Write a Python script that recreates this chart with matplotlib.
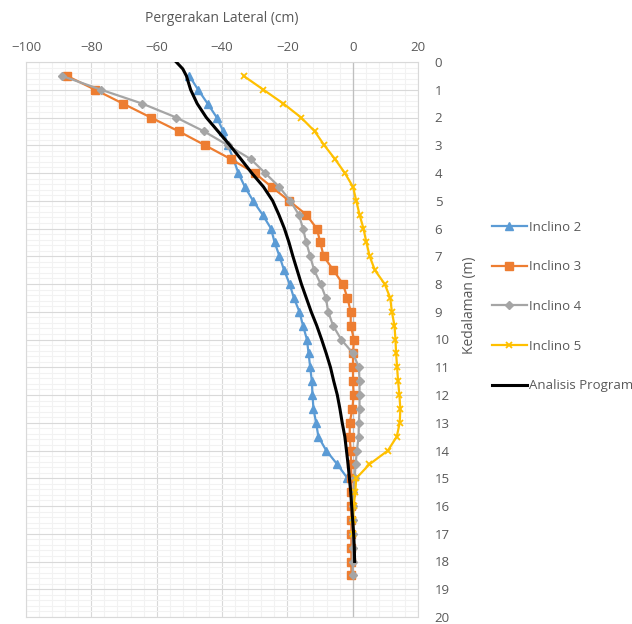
import numpy as np
import matplotlib
matplotlib.use("Agg")
import matplotlib.pyplot as plt
from matplotlib.ticker import MultipleLocator

plt.rcParams['font.family'] = ['Open Sans', 'DejaVu Sans']

# kedalaman titik inclinometer (m)
kedalaman_2 = np.arange(0.5, 15.01, 0.5)
inclino_2 = [-50.0, -47.3, -44.4, -41.6, -39.6, -38.2, -36.5, -35.0, -33.0, -30.5,
             -27.6, -25.0, -23.9, -22.4, -21.0, -19.3, -18.0, -16.3, -15.2, -14.0,
             -13.5, -13.0, -12.5, -12.3, -12.0, -11.2, -10.5, -8.1, -4.7, -1.6]

kedalaman_3 = np.arange(0.5, 18.51, 0.5)
inclino_3 = [-87.5, -78.8, -70.3, -61.8, -53.2, -45.2, -37.3, -30.0, -24.8, -19.5,
             -14.2, -11.0, -9.9, -8.9, -5.9, -3.0, -1.6, -0.6, -0.6, 0.4,
             0.1, 0.1, 0.1, 0.3, -0.1, -0.9, -0.9, -0.6, -0.5, -0.4,
             -0.4, -0.4, -0.4, -0.4, -0.4, -0.4, -0.4]

kedalaman_4 = np.arange(0.5, 18.51, 0.5)
inclino_4 = [-89.0, -77.0, -64.4, -54.0, -45.5, -38.2, -31.2, -26.8, -22.5, -19.1,
             -16.5, -15.2, -14.2, -13.0, -11.8, -9.8, -8.2, -7.5, -6.0, -3.5,
             0.1, 1.9, 2.1, 2.1, 2.1, 1.9, 1.8, 1.3, 0.9, 0.6,
             0.2, 0.0, 0.0, 0.0, 0.0, 0.0, 0.0]

kedalaman_5 = np.arange(0.5, 17.01, 0.5)
inclino_5 = [-33.4, -27.3, -21.2, -15.8, -11.6, -8.7, -5.4, -2.4, 0.1, 1.1,
             2.1, 3.3, 4.2, 5.2, 6.8, 9.8, 11.5, 12.0, 12.8, 13.1,
             13.3, 13.6, 13.9, 14.3, 14.6, 14.4, 13.5, 10.8, 5.1, 1.1,
             0.8, 0.3, 0.2, 0.1]

kedalaman_prog = [0.0, 0.25, 0.5, 1.0, 1.5, 2.0, 2.5, 3.0, 3.5, 4.0, 4.5, 5.0, 5.5,
                  6.0, 6.5, 7.0, 7.5, 8.0, 8.5, 9.0, 9.5, 10.0, 10.5, 11.0, 11.5,
                  12.0, 12.5, 13.0, 13.5, 14.0, 14.5, 15.0, 15.5, 16.0, 16.5,
                  17.0, 17.5, 18.0]
analisis_prog = [-54.0, -52.0, -50.9, -49.6, -47.6, -44.8, -41.2, -37.6, -34.2, -30.9,
                 -27.3, -24.5, -22.6, -20.9, -19.5, -18.3, -17.0, -15.7, -14.2, -12.7,
                 -11.0, -9.5, -8.1, -6.8, -5.8, -4.7, -3.9, -3.2, -2.4, -1.9,
                 -1.4, -1.0, -0.6, -0.3, 0.0, 0.3, 0.5, 0.6]

warna_teks = '#595959'

fig = plt.figure(figsize=(6.32, 6.24), dpi=100)
ax = fig.add_axes([26 / 632, 1 - 617 / 624, 392 / 632, 555 / 624])

ax.set_xlim(-100, 20)
ax.set_ylim(20, 0)

ax.xaxis.set_major_locator(MultipleLocator(20))
ax.xaxis.set_minor_locator(MultipleLocator(4))
ax.yaxis.set_major_locator(MultipleLocator(1))
ax.yaxis.set_minor_locator(MultipleLocator(0.2))

ax.grid(which='minor', color='#f2f2f2', lw=0.8, zorder=0)
ax.grid(which='major', color='#d9d9d9', lw=0.8, zorder=0)
ax.axvline(0, color='#bfbfbf', lw=0.9, zorder=1)
ax.set_axisbelow(True)

ax.xaxis.tick_top()
ax.yaxis.tick_right()
ax.tick_params(which='both', length=0, labelsize=9.5, colors=warna_teks)
ax.tick_params(axis='x', pad=6)
ax.tick_params(axis='y', pad=12)
for s in ax.spines.values():
    s.set_color('#d9d9d9')
    s.set_linewidth(0.8)

ax.plot(inclino_2, kedalaman_2, '-^', color='#5B9BD5', lw=1.6, ms=5.5, label='Inclino 2', zorder=3)
ax.plot(inclino_3, kedalaman_3, '-s', color='#ED7D31', lw=1.6, ms=6, label='Inclino 3', zorder=3)
ax.plot(inclino_4, kedalaman_4, '-D', color='#A5A5A5', lw=1.6, ms=4, label='Inclino 4', zorder=3)
ax.plot(inclino_5, kedalaman_5, '-x', color='#FFC000', lw=1.6, ms=5, mew=1.3, label='Inclino 5', zorder=3)
ax.plot(analisis_prog, kedalaman_prog, '-', color='black', lw=2.2, label='Analisis Program', zorder=4)

fig.text(222 / 632, 1 - 19 / 624, 'Pergerakan Lateral (cm)', ha='center', va='center',
         fontsize=10, color=warna_teks)
fig.text(470 / 632, 1 - 305 / 624, 'Kedalaman (m)', ha='center', va='center',
         rotation=90, fontsize=10, color=warna_teks)

fig.legend(loc='upper left', bbox_to_anchor=(485 / 632, 1 - 214 / 624), frameon=False,
           fontsize=9.5, labelspacing=2.02, handlelength=2.7, handletextpad=0.15,
           labelcolor=warna_teks, borderpad=0)

fig.savefig('out.png', dpi=100)
